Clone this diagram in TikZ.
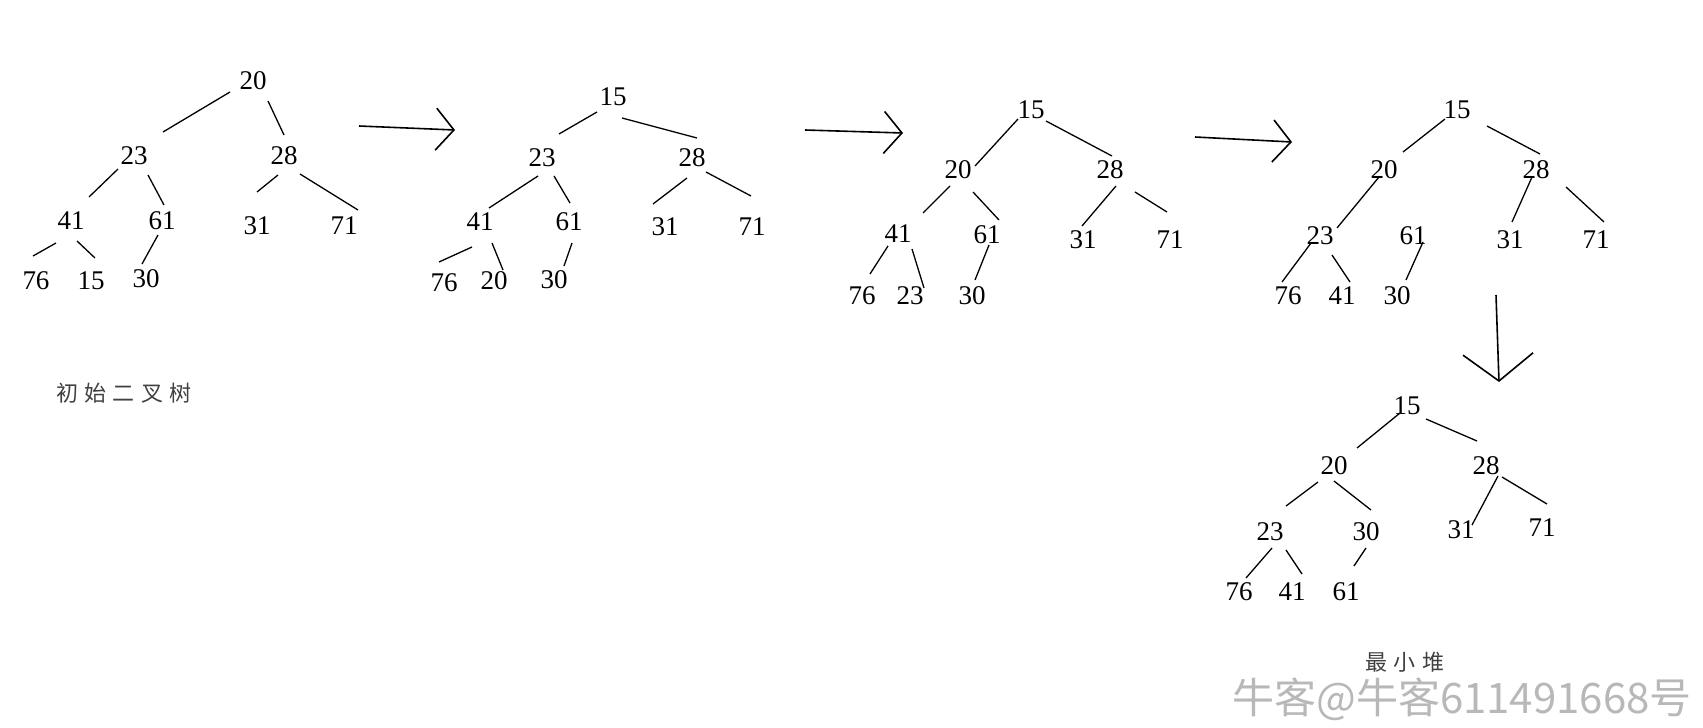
\documentclass[tikz,border=0pt]{standalone}
\usepackage{fontspec}
\usepackage{tikz}
\usetikzlibrary{calc,arrows.meta}
\newfontfamily\cjk[LetterSpace=28]{Noto Sans CJK SC}
\newfontfamily\markfont{Noto Sans CJK SC}
\newfontfamily\numfont{Liberation Serif}
\tikzset{
	num/.style={inner sep=0pt,font=\numfont\fontsize{27}{30}\selectfont},
	link/.style={line width=1.3pt},
	arrowline/.style={line width=1.6pt,-{Straight Barb[length=18pt,width=42pt]}},
	treelabel/.style={inner sep=0pt,text=black!75,font=\cjk\fontsize{22}{26}\selectfont}
}

\begin{document}
\begin{tikzpicture}[x=1pt,y=-1pt]
\useasboundingbox (0,0) rectangle (1703,728);
\foreach \n/\x/\y in {20/253/81,23/134/156,28/284/156,41/71/221,61/162/221,31/257/226,71/344/226,76/36/281,15/91/281,30/146/279}
	\node[num] (a\n) at (\x,\y) {\n};
\foreach \p/\u/\q/\v in {20/{-23,11}/23/{29,-24},20/{15,20}/28/{0,-21},23/{-16,13}/41/{18,-24},23/{14,19}/61/{2,-16},28/{-6,19}/31/{0,-34},28/{16,18}/71/{14,-16},41/{-15,22}/76/{-3,-25},41/{6,20}/15/{4,-23},61/{-4,14}/30/{-4,-15}}
	\draw[link] ($(a\p)+(\u)$) -- ($(a\q)+(\v)$);
\foreach \n/\x/\y in {15/613/97,23/542/158,28/692/158,41/480/222,61/569/222,31/665/227,71/752/227,76/444/283,20/494/281,30/554/280}
	\node[num] (b\n) at (\x,\y) {\n};
\foreach \p/\u/\q/\v in {15/{-16,15}/23/{17,-24},15/{9,21}/28/{5,-20},23/{-4,18}/41/{9,-14},23/{12,18}/61/{1,-19},28/{-5,20}/31/{-12,-23},28/{14,14}/71/{-1,-31},41/{-8,25}/76/{-5,-21},41/{12,21}/20/{9,-11},61/{3,21}/30/{10,-14}}
	\draw[link] ($(b\p)+(\u)$) -- ($(b\q)+(\v)$);
\foreach \n/\x/\y in {15/1031/110,20/958/170,28/1110/170,41/898/234,61/987/235,31/1083/240,71/1170/240,76/862/296,23/910/296,30/972/296}
	\node[num] (c\n) at (\x,\y) {\n};
\foreach \p/\u/\q/\v in {15/{-13,9}/20/{17,-4},15/{15,11}/28/{2,-14},20/{-8,16}/41/{25,-21},20/{15,22}/61/{12,-15},28/{6,16}/31/{-1,-14},28/{25,22}/71/{-3,-28},41/{-10,12}/76/{8,-22},41/{14,15}/23/{14,-8},61/{2,10}/30/{3,-16}}
	\draw[link] ($(c\p)+(\u)$) -- ($(c\q)+(\v)$);
\foreach \n/\x/\y in {15/1457/110,20/1384/170,28/1536/170,23/1320/236,61/1413/236,31/1510/240,71/1596/240,76/1288/296,41/1342/296,30/1397/296}
	\node[num] (d\n) at (\x,\y) {\n};
\foreach \p/\u/\q/\v in {15/{-12,9}/20/{19,-18},15/{30,16}/28/{4,-16},20/{-5,7}/23/{17,-8},28/{-4,7}/31/{2,-18},28/{30,17}/71/{8,-18},23/{-9,7}/76/{-6,-14},23/{12,19}/41/{8,-14},61/{10,6}/30/{9,-16}}
	\draw[link] ($(d\p)+(\u)$) -- ($(d\q)+(\v)$);
\foreach \n/\x/\y in {15/1407/406,20/1334/466,28/1486/466,23/1270/532,30/1366/532,31/1461/530,71/1542/528,76/1239/592,41/1292/592,61/1346/592}
	\node[num] (e\n) at (\x,\y) {\n};
\foreach \p/\u/\q/\v in {15/{-7,7}/20/{23,-18},15/{19,13}/28/{-9,-25},20/{-16,16}/23/{16,-26},20/{0,15}/30/{5,-22},28/{12,10}/31/{11,-5},28/{16,11}/71/{5,-24},23/{2,16}/76/{7,-14},23/{16,18}/41/{10,-18},30/{0,16}/61/{8,-26}}
	\draw[link] ($(e\p)+(\u)$) -- ($(e\q)+(\v)$);
\coordinate (s1) at (359,126);
\coordinate (t1) at (455,130);
\coordinate (s2) at (805,130);
\coordinate (t2) at (903,133);
\coordinate (s3) at (1195,137);
\coordinate (t3) at (1292,142);
\coordinate (s4) at (1496,295);
\coordinate (t4) at (1499,382);
\draw[arrowline] (s1) -- (t1);
\draw[arrowline] (s2) -- (t2);
\draw[arrowline] (s3) -- (t3);
\draw[line width=1.6pt,-{Straight Barb[length=27pt,width=70pt]}] (s4) -- (t4);
\node[treelabel] (start) at (124,393) {初始二叉树};
\node[treelabel] (heap) at (1405,662) {最小堆};
\node[inner sep=0pt,anchor=east,text=black!28,font=\markfont\fontsize{42}{46}\selectfont] (mark) at (1692,699) {牛客@牛客611491668号};
\end{tikzpicture}
\end{document}
